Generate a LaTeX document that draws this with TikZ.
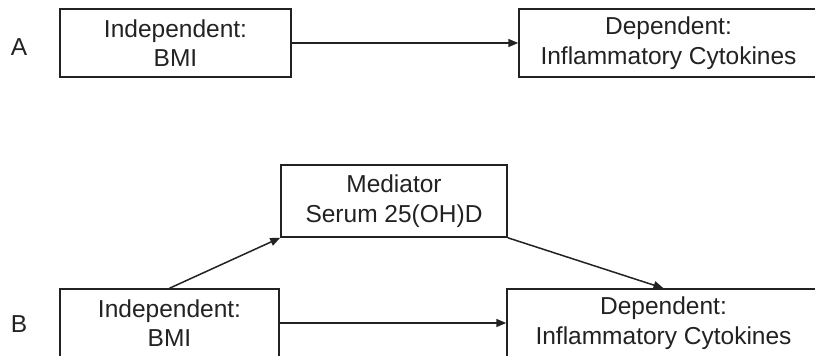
\documentclass[tikz,border=0pt]{standalone}
\usepackage{fontspec}
\setmainfont{Liberation Sans}
\usetikzlibrary{arrows.meta}
\definecolor{ink}{HTML}{222222}
\begin{document}
\begin{tikzpicture}[x=1pt,y=-1pt,
  box/.style={draw=ink,line width=1.5pt,fill=white,inner sep=0pt,align=center,
    font=\fontsize{24.5}{29.5}\selectfont,text=ink},
  lbl/.style={font=\fontsize{24.5}{29.5}\selectfont,text=ink,inner sep=0pt},
  conn/.style={draw=ink,line width=1.5pt,-{Triangle[length=10pt,width=8pt]}}]
\useasboundingbox (0,0) rectangle (815,356);
\node[box,minimum width=231pt,minimum height=68pt] (a1) at (175.5,43) {Independent:\\BMI};
\node[box,minimum width=299pt,minimum height=68pt] (a2) at (668.5,43) {Dependent:\\Inflammatory Cytokines};
\node[lbl] (la) at (19,47) {A};
\node[box,minimum width=226pt,minimum height=72pt] (m) at (394,201) {Mediator\\Serum 25(OH)D};
\node[box,minimum width=219pt,minimum height=68pt] (b1) at (169.5,323) {Independent:\\BMI};
\node[box,minimum width=313pt,minimum height=68pt] (b2) at (663.5,323) {Dependent:\\Inflammatory Cytokines};
\node[lbl] (lb) at (19,324) {B};
\draw[conn] (a1.east) -- (a2.west);
\draw[conn] (b1.east) -- (b2.west);
\draw[conn] (b1.north) -- (m.south west);
\draw[conn] (m.south east) -- (b2.north);
\end{tikzpicture}
\end{document}
